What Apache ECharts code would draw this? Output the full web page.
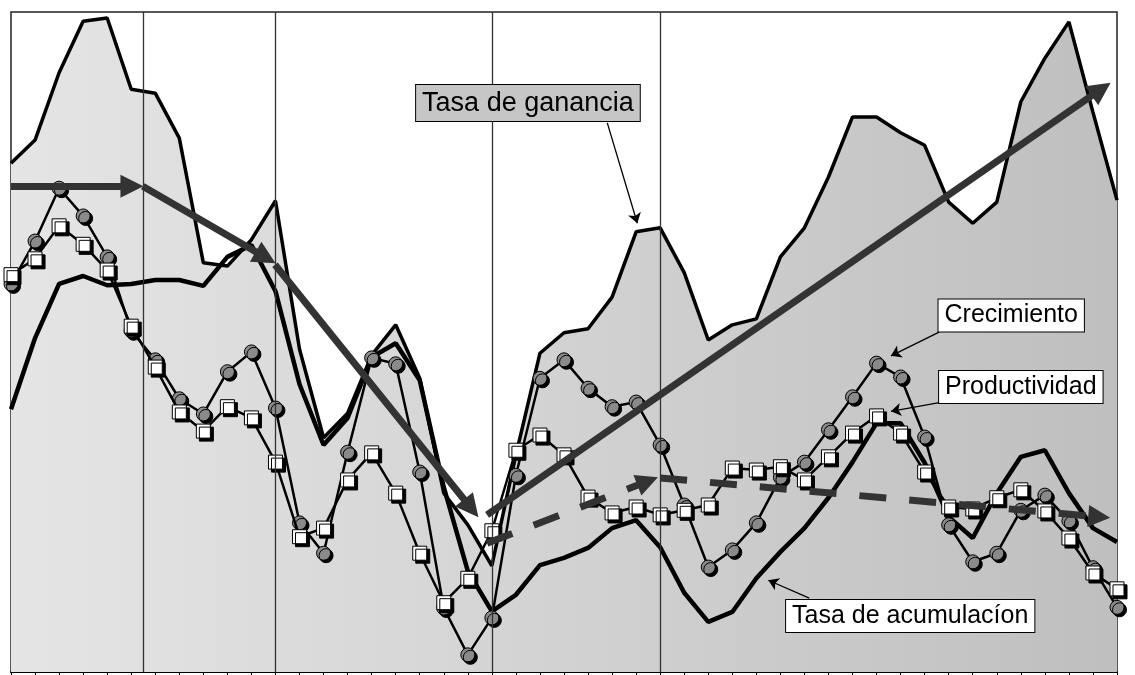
<!DOCTYPE html>
<html>
<head>
    <meta charset="utf-8">
    <title>Tasa de ganancia y acumulacíon</title>
    <script src="https://cdn.jsdelivr.net/npm/echarts@6/dist/echarts.min.js"></script>
    <style>
        html, body { margin: 0; padding: 0; background: #fff; }
        #grafico { width: 1135px; height: 675px; }
    </style>
</head>
<body>
<div id="grafico"></div>
<script>
    // valores (escala 0-100), un punto por periodo
    var ganancia = [77.1, 80.6, 90.8, 98.6, 99.1, 88.3, 87.7, 80.9, 62.0, 61.5, 65.5, 71.4, 48.9, 35.5, 39.2, 48.0,
        52.6, 44.5, 27.1, 22.3, 16.1, 32.9, 48.3, 51.4, 52.0, 56.8, 66.7, 67.3, 60.5, 50.3, 52.6, 53.5,
        62.9, 67.3, 75.0, 84.1, 84.1, 81.7, 79.8, 71.2, 68.0, 71.2, 86.4, 93.0, 98.5, 84.8, 71.5];
    var acumulacion = [39.8, 50.6, 58.8, 60.0, 58.6, 58.8, 59.4, 59.4, 58.5, 62.9, 64.7, 57.7, 43.6, 34.4, 38.5, 47.7,
        49.8, 44.2, 28.0, 15.3, 9.2, 11.7, 16.2, 17.3, 18.8, 21.8, 23.0, 18.9, 12.0, 7.6, 9.1, 14.2,
        18.2, 21.8, 26.4, 31.8, 37.7, 37.7, 31.7, 23.5, 20.3, 27.1, 32.6, 33.6, 27.1, 21.8, 19.7];
    var crecimiento = [58.8, 65.3, 73.3, 69.1, 62.9, 51.7, 47.3, 41.4, 39.1, 45.5, 48.5, 40.0, 22.6, 18.0, 33.3, 47.6,
        46.7, 30.3, 9.7, 2.6, 8.2, 29.8, 44.5, 47.3, 43.0, 40.2, 40.9, 34.4, 25.3, 15.9, 18.5, 22.6,
        29.5, 31.8, 36.7, 41.7, 46.8, 44.7, 35.6, 22.3, 16.7, 18.0, 24.5, 26.8, 22.9, 15.8, 9.8];
    var productividad = [60.2, 62.6, 67.6, 64.8, 60.9, 52.4, 46.2, 39.4, 36.5, 40.2, 38.5, 31.8, 20.5, 21.8, 29.1, 33.2,
        27.1, 18.0, 10.5, 14.2, 21.4, 33.6, 35.9, 32.9, 26.5, 24.1, 25.0, 23.8, 24.5, 25.3, 30.9, 30.6,
        31.1, 29.1, 32.6, 36.2, 38.8, 36.2, 30.3, 25.0, 24.7, 26.4, 27.6, 24.4, 20.3, 15.0, 12.6];

    // cortes de periodo (indice del punto)
    var cortes = [5.48, 11, 20, 27];

    // flechas de tendencia: [inicio, fin] en coordenadas del grafico
    var tendenciaSolida = [
        [[0, 73.6], [5.03, 73.6]],
        [[5.48, 73.6], [10.59, 62.8]],
        [[10.98, 61.7], [19.14, 24.8]],
        [[19.8, 23.8], [45.34, 88.3]]
    ];
    var tendenciaPunteada = [
        [[19.8, 19.5], [26.48, 28.9]],
        [[27.0, 29.4], [45.26, 23.5]]
    ];

    // etiquetas con su flecha
    var etiquetas = ['Tasa de ganancia', 'Crecimiento', 'Productividad', 'Tasa de acumulacíon'];
    var posEtiquetas = [[21.5, 86.2], [41.6, 54.0], [42.0, 43.2], [37.4, 8.5]];
    var flechasEtiquetas = [
        [[24.8, 83.2], [26.05, 68.0]],
        [[38.6, 51.5], [36.6, 47.9]],
        [[38.6, 40.8], [36.6, 39.5]],
        [[33.2, 11.2], [31.5, 13.9]]
    ];

    var chart = echarts.init(document.getElementById('grafico'));

    function pares(arr) {
        return arr.map(function (v, i) { return [i, v]; });
    }

    function flechas(lista) {
        return lista.map(function (f) {
            return [{ coord: f[0] }, { coord: f[1] }];
        });
    }

    var fuente = 'Liberation Sans';

    var cajas = etiquetas.map(function (t, i) {
        return {
            coord: posEtiquetas[i],
            symbol: 'rect',
            symbolSize: 0,
            label: {
                show: true,
                position: 'inside',
                formatter: t,
                color: '#000',
                fontFamily: fuente,
                fontSize: i === 0 ? 27 : 25,
                backgroundColor: i === 0 ? '#c6c6c6' : '#fff',
                borderColor: '#000',
                borderWidth: 1,
                padding: i === 0 ? [5, 6, 4, 6] : [4, 6, 3, 6]
            }
        };
    });

    var option = {
        animation: false,
        backgroundColor: '#fff',
        grid: {
            left: 11,
            right: 18,
            top: 12,
            bottom: 3,
            show: true,
            borderColor: '#222',
            borderWidth: 1.5,
            backgroundColor: '#fff'
        },
        xAxis: {
            type: 'value',
            min: 0,
            max: 46,
            interval: 1,
            axisLine: { lineStyle: { color: '#000', width: 2 } },
            axisTick: { show: true, length: 3, lineStyle: { color: '#000' } },
            axisLabel: { show: false },
            splitLine: { show: false }
        },
        yAxis: {
            type: 'value',
            min: 0,
            max: 100,
            show: false,
            splitLine: { show: false }
        },
        series: [
            {
                name: 'Tasa de ganancia',
                type: 'line',
                data: pares(ganancia),
                symbol: 'none',
                z: 1,
                lineStyle: { color: '#000', width: 3.5 },
                areaStyle: {
                    opacity: 1,
                    color: new echarts.graphic.LinearGradient(0, 0, 1, 0, [
                        { offset: 0, color: '#e5e5e5' },
                        { offset: 1, color: '#bfbfbf' }
                    ])
                },
                markLine: {
                    silent: true,
                    symbol: 'none',
                    label: { show: false },
                    lineStyle: { color: '#333', width: 1.3, type: 'solid' },
                    data: cortes.map(function (c) { return { xAxis: c }; })
                }
            },
            {
                name: 'Tasa de acumulacíon',
                type: 'line',
                data: pares(acumulacion),
                symbol: 'none',
                z: 2,
                lineStyle: { color: '#000', width: 4.5 }
            },
            {
                name: 'Crecimiento',
                type: 'line',
                data: pares(crecimiento),
                symbol: 'circle',
                symbolSize: 14,
                z: 3,
                lineStyle: { color: '#000', width: 2.5 },
                itemStyle: {
                    color: '#8a8a8a',
                    borderColor: '#000',
                    borderWidth: 1,
                    shadowColor: '#000',
                    shadowBlur: 0,
                    shadowOffsetX: 2.5,
                    shadowOffsetY: 2.5
                }
            },
            {
                name: 'Productividad',
                type: 'line',
                data: pares(productividad),
                symbol: 'rect',
                symbolSize: 14,
                z: 4,
                lineStyle: { color: '#000', width: 2.5 },
                itemStyle: {
                    color: '#fff',
                    borderColor: '#000',
                    borderWidth: 1,
                    shadowColor: '#000',
                    shadowBlur: 0,
                    shadowOffsetX: 3,
                    shadowOffsetY: 3
                }
            },
            {
                name: 'tendencia',
                type: 'line',
                data: [],
                z: 5,
                markLine: {
                    silent: true,
                    symbol: ['none', 'triangle'],
                    symbolSize: 23,
                    label: { show: false },
                    lineStyle: { color: '#333', width: 7, type: 'solid', opacity: 1 },
                    itemStyle: { color: '#333' },
                    data: flechas(tendenciaSolida)
                }
            },
            {
                name: 'tendencia2',
                type: 'line',
                data: [],
                z: 5,
                markLine: {
                    silent: true,
                    symbol: ['none', 'triangle'],
                    symbolSize: 22,
                    label: { show: false },
                    lineStyle: { color: '#333', width: 7, type: [27, 23], opacity: 1 },
                    itemStyle: { color: '#333' },
                    data: flechas(tendenciaPunteada)
                }
            },
            {
                name: 'notas',
                type: 'line',
                data: [],
                z: 6,
                markLine: {
                    silent: true,
                    symbol: ['none', 'arrow'],
                    symbolSize: 10,
                    label: { show: false },
                    lineStyle: { color: '#000', width: 1.3, type: 'solid', opacity: 1 },
                    itemStyle: { color: '#000' },
                    data: flechas(flechasEtiquetas)
                },
                markPoint: {
                    silent: true,
                    data: cajas
                }
            }
        ]
    };

    chart.setOption(option);

    window.onresize = function () {
        chart.resize();
    };
</script>
</body>
</html>
